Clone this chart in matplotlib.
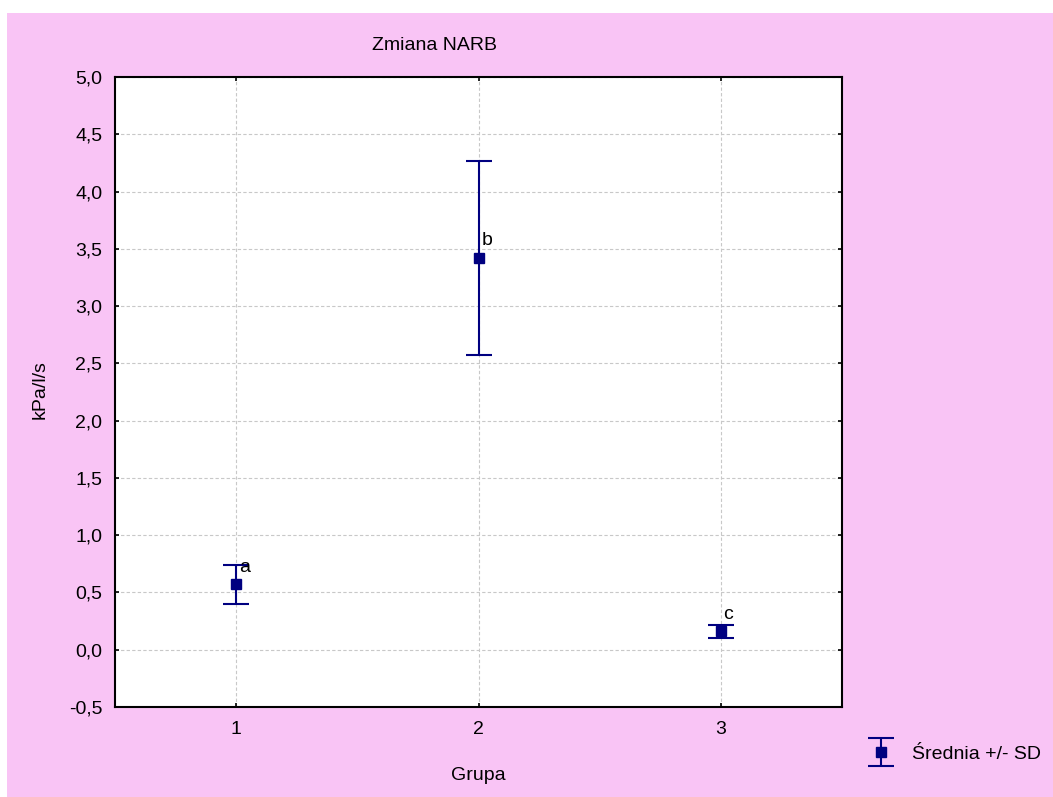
import matplotlib.pyplot as plt
import matplotlib.patches as mpatches
from matplotlib.ticker import FuncFormatter, MultipleLocator
from matplotlib.legend_handler import HandlerErrorbar

plt.rcParams['font.family'] = ['Liberation Sans', 'DejaVu Sans']

# group means and SD
groups = [1, 2, 3]
means = [0.57, 3.42, 0.16]
sds = [0.17, 0.85, 0.06]
letters = ['a', 'b', 'c']

W, H = 1053, 797
pink = '#F9C4F5'
navy = '#000080'
fs = 14

fig = plt.figure(figsize=(W / 100, H / 100), dpi=100)
fig.patch.set_facecolor('white')
# pink panel behind everything, thin white margin top/left
fig.patches.append(mpatches.Rectangle((7 / W, 0), 1 - 7 / W, 1 - 13 / H,
                                      transform=fig.transFigure,
                                      facecolor=pink, edgecolor='none', zorder=-10))

ax = fig.add_axes([115 / W, 1 - 707 / H, (842 - 115) / W, (707 - 77) / H])
ax.set_facecolor('white')

eb = ax.errorbar(groups, means, yerr=sds, fmt='s', color=navy, ms=7.5,
                 ecolor=navy, elinewidth=1.5, capsize=9.5, capthick=1.5,
                 zorder=3, label='Średnia +/- SD')

for g, m, t in zip(groups, means, letters):
    ax.annotate(t, (g, m), xytext=(2, 9), textcoords='offset points',
                fontsize=fs, ha='left', va='baseline')

ax.set_xlim(0.5, 3.5)
ax.set_ylim(-0.5, 5.0)
ax.set_xticks(groups)
ax.yaxis.set_major_locator(MultipleLocator(0.5))
ax.yaxis.set_major_formatter(FuncFormatter(lambda v, p: f'{v:.1f}'.replace('.', ',')))
ax.tick_params(labelsize=fs, direction='in', length=3, width=1.2,
               top=True, right=True)
ax.tick_params(axis='y', pad=9)
ax.tick_params(axis='x', pad=10)
ax.grid(True, color='#c8c8c8', linestyle=(0, (3, 2)), linewidth=0.8)
ax.set_axisbelow(True)
for s in ax.spines.values():
    s.set_linewidth(1.5)
    s.set_color('black')

fig.text(435 / W, 1 - 45 / H, 'Zmiana NARB', fontsize=fs, ha='center', va='center')
fig.text(478 / W, 1 - 775 / H, 'Grupa', fontsize=fs, ha='center', va='center')
fig.text(40 / W, 1 - 390 / H, 'kPa/l/s', fontsize=fs, ha='center', va='center',
         rotation=90)

fig.legend(handles=[eb], loc='center left', bbox_to_anchor=(842 / W, 1 - 754 / H),
           frameon=False, fontsize=fs, handlelength=2.2, handletextpad=0.5,
           handler_map={type(eb): HandlerErrorbar(yerr_size=0.7)})

fig.savefig('out.png', dpi=100, facecolor=fig.get_facecolor())
